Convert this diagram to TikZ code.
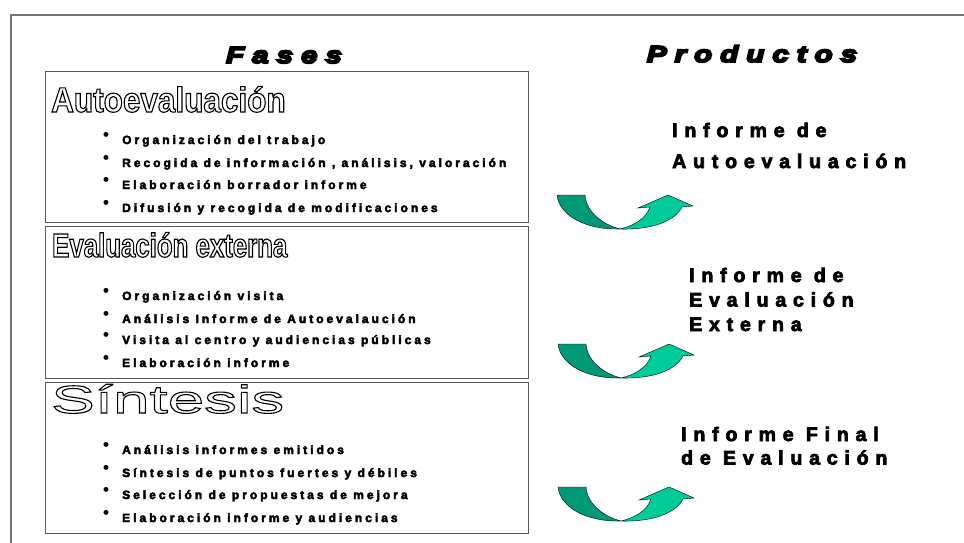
\documentclass[tikz,border=0pt]{standalone}
\usepackage{fontspec}
\setmainfont{Liberation Sans}
\newfontfamily\titlefont{Liberation Sans}[LetterSpace=34,FakeStretch=1.3]
\newfontfamily\headAfont{Liberation Sans}[FakeStretch=0.9]
\newfontfamily\headBfont{Liberation Sans}[FakeStretch=0.77]
\newfontfamily\headCfont{Liberation Sans}[FakeStretch=1.68]
\newfontfamily\itemfont{Liberation Sans}[LetterSpace=25]
\newfontfamily\prodfont{Liberation Sans}[LetterSpace=35]
\definecolor{arrdark}{RGB}{0,153,119}
\definecolor{arrlight}{RGB}{0,204,153}
\newcommand\heavytext[1]{\special{pdf:literal direct 2 Tr 1.9 w}#1\special{pdf:literal direct 0 Tr}}
\newcommand\boldish[1]{\special{pdf:literal direct 2 Tr 0.45 w}#1\special{pdf:literal direct 0 Tr}}
\newcommand\boldisher[1]{\special{pdf:literal direct 2 Tr 0.75 w}#1\special{pdf:literal direct 0 Tr}}
\newcommand\hollowtext[1]{\special{pdf:literal direct 1 Tr 1.1 w}#1\special{pdf:literal direct 0 Tr}}
\newcommand\itm[1]{\makebox[19pt][l]{\raisebox{3.2pt}{\fontsize{17}{17}\selectfont\textbullet}}\boldish{#1}}
\tikzset{
  frameline/.style={draw=black!55,line width=1.6pt},
  phasebox/.style={draw=black!65,line width=1.2pt,anchor=north west,inner sep=0pt,minimum width=483pt},
  titletext/.style={anchor=base,inner sep=0pt,font=\titlefont\bfseries\itshape\fontsize{23}{26}\selectfont},
  headtext/.style={anchor=base west,inner sep=0pt},
  itemtext/.style={anchor=base west,inner sep=0pt,font=\itemfont\bfseries\fontsize{12}{13}\selectfont},
  prodtext/.style={anchor=base west,inner sep=0pt},
  uarrow/.pic={
    \filldraw[fill=arrdark,draw=black,line width=0.4pt]
      (0,0) -- (28,0) .. controls (29,16) and (44,29) .. (63,34)
      .. controls (28,35) and (2,20) .. (0,0) -- cycle;
    \filldraw[fill=arrlight,draw=black,line width=0.4pt]
      (63,34) .. controls (95,35) and (118,26) .. (125,12) -- (136,11) -- (111,0)
      -- (81,13) -- (93,12) .. controls (89,24) and (76,31) .. (63,34) -- cycle;
  }
}
\begin{document}
\begin{tikzpicture}[x=1pt,y=-1pt]
\useasboundingbox (0,0) rectangle (964,543);
\fill[white] (0,0) rectangle (964,543);
\coordinate (fbl) at (11,543);
\coordinate (ftl) at (11,15);
\coordinate (ftr) at (964,15);
\draw[frameline] (fbl) -- (ftl) -- (ftr);

\node[titletext] (fases) at (284,63) {\heavytext{Fases}};
\node[titletext] (productos) at (752,62) {\heavytext{Productos}};

\node[phasebox,minimum height=151pt] (box1) at (45,71) {};
\node[phasebox,minimum height=152pt] (box2) at (45,226) {};
\node[phasebox,minimum height=151pt] (box3) at (45,382) {};

\node[headtext,font=\headAfont\bfseries\fontsize{35}{40}\selectfont] (h1) at (51,112) {\hollowtext{Autoevaluación}};
\node[headtext,font=\headBfont\bfseries\fontsize{33.5}{38}\selectfont] (h2) at (52,257) {\hollowtext{Evaluación externa}};
\node[headtext,font=\headCfont\fontsize{39}{44}\selectfont] (h3) at (51,413) {\hollowtext{Síntesis}};

\node[itemtext] (a1) at (103,144) {\itm{Organización del trabajo}};
\node[itemtext] (a2) at (103,167) {\itm{Recogida de información , análisis, valoración}};
\node[itemtext] (a3) at (103,189) {\itm{Elaboración borrador informe}};
\node[itemtext] (a4) at (103,212) {\itm{Difusión y recogida de modificaciones}};

\node[itemtext] (b1) at (103,300) {\itm{Organización visita}};
\node[itemtext] (b2) at (103,323) {\itm{Análisis Informe de Autoevalaución}};
\node[itemtext] (b3) at (103,344) {\itm{Visita al centro y audiencias públicas}};
\node[itemtext] (b4) at (103,367) {\itm{Elaboración informe}};

\node[itemtext] (c1) at (103,454) {\itm{Análisis informes emitidos}};
\node[itemtext] (c2) at (103,477) {\itm{Síntesis de puntos fuertes y débiles}};
\node[itemtext] (c3) at (103,499) {\itm{Selección de propuestas de mejora}};
\node[itemtext] (c4) at (103,522) {\itm{Elaboración informe y audiencias}};

\node[prodtext,font=\prodfont\bfseries\fontsize{19.5}{31}\selectfont] (p1) at (672,137)
  {\boldisher{\begin{tabular}[t]{@{}l@{}}Informe de\\Autoevaluación\end{tabular}}};
\node[prodtext,font=\prodfont\bfseries\fontsize{19.5}{24.5}\selectfont] (p2) at (689,282)
  {\boldisher{\begin{tabular}[t]{@{}l@{}}Informe de\\Evaluación\\Externa\end{tabular}}};
\node[prodtext,font=\prodfont\bfseries\fontsize{19.5}{23.5}\selectfont] (p3) at (681,441)
  {\boldisher{\begin{tabular}[t]{@{}l@{}}Informe Final\\de Evaluación\end{tabular}}};

\pic at (557,195) {uarrow};
\pic at (558,344) {uarrow};
\pic at (558,487) {uarrow};
\end{tikzpicture}
\end{document}
